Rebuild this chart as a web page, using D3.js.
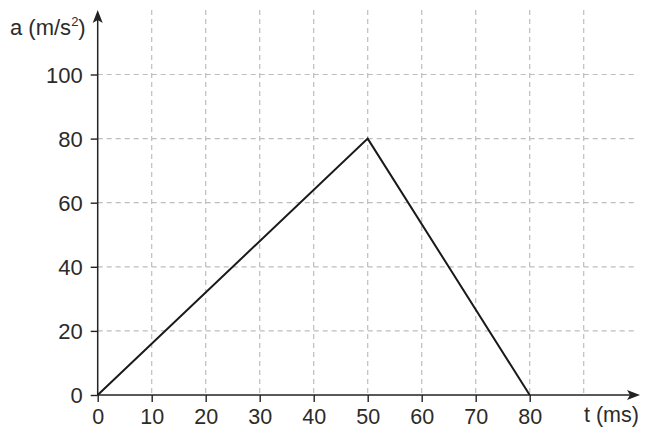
<!DOCTYPE html>
<html>
<head>
<meta charset="utf-8">
<script src="https://cdn.jsdelivr.net/npm/d3@7"></script>
<style>
  html, body { margin: 0; padding: 0; background: #fff; }
  svg { display: block; }
  text { font-family: "Liberation Sans", Arial, Helvetica, sans-serif; }
</style>
</head>
<body>
<svg id="chart" width="645" height="429"></svg>
<script>
// Data
const tValues = [0, 50, 80];        // t (ms)
const aValues = [0, 80, 0];         // a (m/s²)
const xTicks = [0, 10, 20, 30, 40, 50, 60, 70, 80];
const xGrid = [10, 20, 30, 40, 50, 60, 70, 80, 90];
const yTicks = [0, 20, 40, 60, 80, 100];
const yGrid = [20, 40, 60, 80, 100];
const xTitle = "t (ms)";
const yTitleMain = "a (m/s";
const yTitleSup = "2";

const svg = d3.select("#chart");
const x = d3.scaleLinear().domain([0, 100]).range([97.7, 637.7]);
const y = d3.scaleLinear().domain([0, 100]).range([395, 74.5]);
const gridTop = 10;
const axisColor = "#222";
const textColor = "#2b2b2b";

// grid
svg.append("g").selectAll("line").data(xGrid).join("line")
  .attr("x1", d => x(d)).attr("x2", d => x(d))
  .attr("y1", gridTop).attr("y2", y(0))
  .attr("stroke", "#bdbdbd").attr("stroke-width", 1.2)
  .attr("stroke-dasharray", "5,4");
svg.append("g").selectAll("line").data(yGrid).join("line")
  .attr("x1", x(0)).attr("x2", x(100))
  .attr("y1", d => y(d)).attr("y2", d => y(d))
  .attr("stroke", "#bdbdbd").attr("stroke-width", 1.2)
  .attr("stroke-dasharray", "5,4");

// axes via d3
const xAxis = svg.append("g").attr("transform", `translate(0,${y(0)})`)
  .call(d3.axisBottom(x).tickValues(xTicks).tickSize(7).tickFormat(d3.format("d")));
xAxis.select(".domain").remove();
xAxis.selectAll(".tick line").attr("stroke", axisColor).attr("stroke-width", 1.4);
xAxis.selectAll(".tick text").attr("y", 424 - y(0)).attr("dy", 0)
  .attr("font-size", 21.5).attr("fill", textColor).attr("font-family", "Liberation Sans, Arial, sans-serif");

const yAxis = svg.append("g").attr("transform", `translate(${x(0)},0)`)
  .call(d3.axisLeft(y).tickValues(yTicks).tickSize(7).tickFormat(d3.format("d")));
yAxis.select(".domain").remove();
yAxis.selectAll(".tick line").attr("stroke", axisColor).attr("stroke-width", 1.4);
yAxis.selectAll(".tick text").attr("x", -15).attr("dy", "0.36em")
  .attr("font-size", 22).attr("fill", textColor).attr("font-family", "Liberation Sans, Arial, sans-serif");

// axis lines with arrows
const xEnd = 640, yEnd = 10;
svg.append("line").attr("x1", x(0)).attr("x2", xEnd - 6).attr("y1", y(0)).attr("y2", y(0))
  .attr("stroke", axisColor).attr("stroke-width", 1.5);
svg.append("line").attr("x1", x(0)).attr("x2", x(0)).attr("y1", y(0)).attr("y2", yEnd + 6)
  .attr("stroke", axisColor).attr("stroke-width", 1.5);
svg.append("path")
  .attr("d", `M${xEnd},${y(0)} L${xEnd - 13},${y(0) - 5} L${xEnd - 10},${y(0)} L${xEnd - 13},${y(0) + 5} Z`)
  .attr("fill", axisColor);
svg.append("path")
  .attr("d", `M${x(0)},${yEnd} L${x(0) - 5},${yEnd + 13} L${x(0)},${yEnd + 10} L${x(0) + 5},${yEnd + 13} Z`)
  .attr("fill", axisColor);

// data line
const line = d3.line().x((d, i) => x(tValues[i])).y((d, i) => y(aValues[i]));
svg.append("path").datum(tValues).attr("d", line)
  .attr("fill", "none").attr("stroke", "#1a1a1a").attr("stroke-width", 2)
  .attr("stroke-linejoin", "miter");

// titles
svg.append("text").attr("x", 584).attr("y", 422).attr("font-size", 21.5)
  .attr("fill", textColor).text(xTitle);
const yt = svg.append("text").attr("x", 10).attr("y", 35).attr("font-size", 22)
  .attr("fill", textColor);
yt.append("tspan").text(yTitleMain);
yt.append("tspan").attr("font-size", 13).attr("dy", -9).text(yTitleSup);
yt.append("tspan").attr("dy", 9).text(")");
</script>
</body>
</html>
